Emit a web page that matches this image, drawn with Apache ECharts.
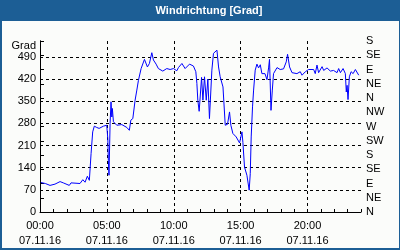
<!DOCTYPE html>
<html><head><meta charset="utf-8">
<script src="https://cdn.jsdelivr.net/npm/echarts@6/dist/echarts.min.js"></script>
<style>html,body{margin:0;padding:0;background:#fff}#c{width:400px;height:250px}</style>
</head><body><div id="c"></div>
<script>
const titleText = 'Windrichtung [Grad]';
const unitLabel = 'Grad';
const dateLabel = '07.11.16';
const compassLabels = ['N','NE','E','SE','S','SW','W','NW','N','NE','E','SE','S'];
const hours = [0.07,0.4,0.75,1.12,1.5,1.74,2.19,2.32,2.99,3.2,3.37,3.54,3.69,3.82,3.94,4.06,4.24,4.42,4.54,4.74,4.99,5.07,5.11,5.16,5.24,5.31,5.37,5.41,5.49,5.74,6.12,6.49,6.68,6.79,6.94,7.11,7.24,7.36,7.49,7.56,7.81,8.03,8.18,8.36,8.48,8.68,8.85,9.18,9.48,9.73,9.98,10.23,10.35,10.61,10.85,11.18,11.47,11.65,11.73,11.8,11.9,11.98,12.08,12.18,12.3,12.43,12.55,12.67,12.85,12.97,13.1,13.23,13.35,13.47,13.68,13.85,14.02,14.17,14.27,14.42,14.67,14.92,15.1,15.17,15.29,15.47,15.64,15.72,15.79,15.89,15.97,16.09,16.22,16.34,16.47,16.59,16.82,16.97,17.09,17.16,17.27,17.37,17.46,17.72,17.96,18.21,18.41,18.51,18.66,18.84,19.21,19.46,19.59,19.84,20.08,20.21,20.46,20.58,20.71,20.83,21.09,21.21,21.46,21.71,21.95,22.21,22.33,22.46,22.66,22.83,22.9,22.96,23.03,23.13,23.26,23.41,23.58,23.71,23.83];
const windDir = [93,90,84,88,96,92,84,92,90,102,94,113,100,185,253,271,267,264,267,271,274,232,163,116,279,348,300,327,285,274,276,267,258,290,295,353,385,416,421,453,482,458,469,503,480,467,453,445,453,450,453,446,456,469,453,467,461,443,406,353,318,320,425,353,427,353,420,295,448,501,506,511,458,427,395,274,277,316,274,248,237,218,253,220,142,116,69,121,237,332,385,448,467,455,465,437,437,418,455,482,321,385,437,456,450,452,474,498,458,440,437,443,432,443,450,445,450,437,464,440,459,447,455,445,447,440,453,440,453,437,379,400,355,427,443,437,450,453,432];

const font = 'Liberation Sans, Arial, sans-serif';
const chart = echarts.init(document.getElementById('c'), null, {renderer:'canvas'});
const dash = {color:'#000', type:[3,3], width:1};
chart.setOption({
  animation:false,
  backgroundColor:'#fbfcfa',
  grid:{left:40, right:39, top:41, bottom:38},
  graphic:[
    {type:'rect', shape:{x:0,y:0,width:400,height:21}, style:{fill:'#1c5e95'}, z:100},
    {type:'rect', shape:{x:0,y:0,width:2,height:250}, style:{fill:'#1c5e95'}, z:100},
    {type:'rect', shape:{x:399,y:0,width:1,height:250}, style:{fill:'#1c5e95'}, z:100},
    {type:'rect', shape:{x:0,y:248,width:400,height:2}, style:{fill:'#1c5e95'}, z:100},
    {type:'text', x:209, y:10.5, style:{text:titleText, fill:'#fff', font:'bold 11px '+font, textAlign:'center', textVerticalAlign:'middle'}, z:101},
    {type:'text', x:36, y:46, style:{text:unitLabel, fill:'#000', font:'11px '+font, textAlign:'right', textVerticalAlign:'middle'}, z:101}
  ],
  xAxis:[
    {type:'value', min:0, max:24, interval:5, position:'bottom',
     axisLine:{show:true, lineStyle:{color:'#000', width:1}},
     axisTick:{show:false},
     splitLine:{show:true, lineStyle:dash, showMinLine:false, showMaxLine:false},
     axisLabel:{showMaxLabel:false, color:'#000', fontFamily:font, fontSize:11, lineHeight:15, margin:6,
       formatter:v => String(v).padStart(2,'0') + ':00\n' + dateLabel}},
    {type:'value', min:0, max:24, interval:1, position:'bottom',
     axisLine:{show:false}, axisLabel:{show:false}, splitLine:{show:false},
     axisTick:{show:true, inside:true, length:3, lineStyle:{color:'#000'}}}
  ],
  yAxis:[
    {type:'value', min:0, max:540, interval:70, position:'left',
     axisLine:{show:true, lineStyle:{color:'#000', width:1}},
     axisTick:{show:false},
     splitLine:{show:true, lineStyle:dash, showMinLine:false, showMaxLine:false},
     axisLabel:{showMaxLabel:false, color:'#000', fontFamily:font, fontSize:11, margin:4}},
    {type:'value', min:0, max:540, interval:45, position:'right',
     axisLine:{show:true, lineStyle:{color:'#000', width:1}},
     axisTick:{show:true, inside:false, length:4, lineStyle:{color:'#000'}},
     splitLine:{show:false},
     axisLabel:{color:'#000', fontFamily:font, fontSize:11, margin:5,
       formatter:v => compassLabels[Math.round(v/45)]}}
  ],
  series:[{
    type:'line', xAxisIndex:0, yAxisIndex:0, showSymbol:false,
    lineStyle:{color:'#0000ff', width:1},
    data: hours.map((h,i)=>[h, windDir[i]])
  }]
});
</script></body></html>
